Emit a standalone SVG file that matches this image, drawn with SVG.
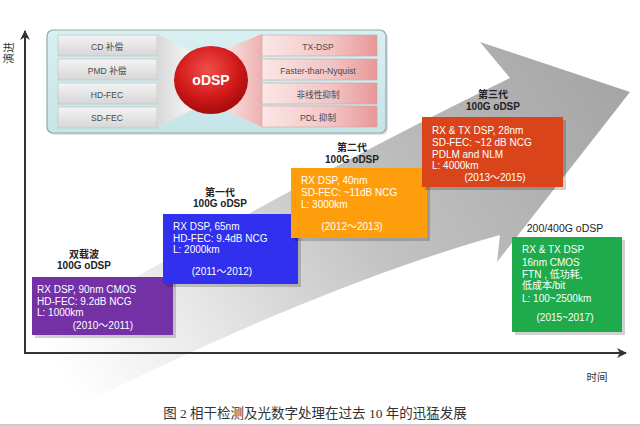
<svg xmlns="http://www.w3.org/2000/svg" width="640" height="426" viewBox="0 0 640 426">
<defs>
<style>
.t{font-family:"Liberation Sans","Noto Sans CJK SC",sans-serif;}
.cell{font-size:8.6px;fill:#4a4a4a;text-anchor:middle;}
.bx{font-size:10px;fill:#ffffff;}
.yr{text-anchor:middle;}
.lb{font-size:10px;font-weight:bold;fill:#222;text-anchor:middle;}
.ax{stroke:#333;stroke-width:2;fill:none;}
.sh{fill:#000;opacity:0.18;}
</style>
<linearGradient id="arrowG" gradientUnits="userSpaceOnUse" x1="610" y1="90" x2="90" y2="420">
<stop offset="0" stop-color="#a6a6a6"/>
<stop offset="0.45" stop-color="#c2c2c2"/>
<stop offset="0.8" stop-color="#ececec"/>
<stop offset="1" stop-color="#ffffff"/>
</linearGradient>
<linearGradient id="panelG" x1="0" y1="0" x2="0" y2="1">
<stop offset="0" stop-color="#d9f0f2"/>
<stop offset="1" stop-color="#c6e4e8"/>
</linearGradient>
<linearGradient id="grayCell" x1="0" y1="0" x2="0" y2="1">
<stop offset="0" stop-color="#f4f4f4"/>
<stop offset="1" stop-color="#d6d6d6"/>
</linearGradient>
<linearGradient id="pinkCell" x1="0" y1="0" x2="1" y2="0">
<stop offset="0" stop-color="#fbe6e6"/>
<stop offset="0.6" stop-color="#f3c4c4"/>
<stop offset="1" stop-color="#e89797"/>
</linearGradient>
<linearGradient id="lfun" x1="0" y1="0" x2="1" y2="0">
<stop offset="0" stop-color="#d8d8d8"/>
<stop offset="1" stop-color="#f6f6f6"/>
</linearGradient>
<linearGradient id="rfun" x1="0" y1="0" x2="1" y2="0">
<stop offset="0" stop-color="#f7dede"/>
<stop offset="1" stop-color="#eeb0b0"/>
</linearGradient>
<radialGradient id="ball" cx="0.45" cy="0.35" r="0.7">
<stop offset="0" stop-color="#f0504a"/>
<stop offset="0.6" stop-color="#d01818"/>
<stop offset="1" stop-color="#9a0a0a"/>
</radialGradient>
<marker id="ah" viewBox="0 0 10 10" refX="9" refY="5" markerWidth="5" markerHeight="5" orient="auto">
<path d="M0,0 L10,5 L0,10 L3,5 z" fill="#333"/>
</marker>
</defs>

<rect x="0" y="0" width="640" height="426" fill="#ffffff"/>

<g id="bigArrow">
<path d="M20,345 Q280,190 510,78 L480,42 L630,92 L497,262 L500,235 Q320,285 60,415 Z" fill="url(#arrowG)"/>
</g>

<g id="connectors">
<line class="ax" x1="25" y1="353" x2="25" y2="31" marker-end="url(#ah)"/>
<line class="ax" x1="24" y1="353" x2="626" y2="353" marker-end="url(#ah)"/>
</g>

<g id="axisLabels" class="t">
<text x="10" y="53" font-size="11" fill="#333" text-anchor="middle" transform="rotate(-90 10 53)" dominant-baseline="middle">演进</text>
<text x="597" y="381" font-size="10.5" fill="#333" text-anchor="middle">时间</text>
</g>

<g id="panel">
<rect x="49" y="32" width="339" height="103" rx="6" fill="#000" opacity="0.12"/>
<rect x="47" y="30" width="339" height="103" rx="6" fill="url(#panelG)" stroke="#8fa7aa" stroke-width="1.2"/>
</g>

<g id="leftCells" class="t">
<rect x="58" y="35" width="99" height="21" fill="url(#grayCell)" stroke="#bdbdbd" stroke-width="0.6"/>
<rect x="58" y="59" width="99" height="21" fill="url(#grayCell)" stroke="#bdbdbd" stroke-width="0.6"/>
<rect x="58" y="83" width="99" height="21" fill="url(#grayCell)" stroke="#bdbdbd" stroke-width="0.6"/>
<rect x="58" y="107" width="99" height="21" fill="url(#grayCell)" stroke="#bdbdbd" stroke-width="0.6"/>
<text class="cell" x="107" y="50">CD 补偿</text>
<text class="cell" x="107" y="74">PMD 补偿</text>
<text class="cell" x="107" y="98">HD-FEC</text>
<text class="cell" x="107" y="121">SD-FEC</text>
</g>

<g id="funnels">
<polygon points="157,34 192,52 192,110 157,127" fill="url(#lfun)"/>
<polygon points="228,48 262,34 262,127 228,112" fill="url(#rfun)"/>
</g>

<g id="odsp" class="t">
<ellipse cx="211" cy="80" rx="37" ry="34" fill="url(#ball)"/>
<text x="211" y="85" font-size="14" font-weight="bold" fill="#ffffff" text-anchor="middle">oDSP</text>
</g>

<g id="rightCells" class="t">
<rect x="262" y="35" width="115" height="21" fill="url(#pinkCell)" stroke="#c9a5a5" stroke-width="0.6"/>
<rect x="262" y="59" width="115" height="21" fill="url(#pinkCell)" stroke="#c9a5a5" stroke-width="0.6"/>
<rect x="262" y="83" width="115" height="21" fill="url(#pinkCell)" stroke="#c9a5a5" stroke-width="0.6"/>
<rect x="262" y="106" width="115" height="21" fill="url(#pinkCell)" stroke="#c9a5a5" stroke-width="0.6"/>
<text class="cell" x="318" y="50">TX-DSP</text>
<text class="cell" x="318" y="74">Faster-than-Nyquist</text>
<text class="cell" x="318" y="98">非线性抑制</text>
<text class="cell" x="318" y="121">PDL 抑制</text>
</g>

<g id="gen0" class="t">
<text class="lb" x="84" y="258">双载波</text>
<text class="lb" x="84" y="269" font-size="9.5">100G oDSP</text>
<rect class="sh" x="35" y="280" width="141" height="58"/>
<rect x="32" y="277" width="141" height="58" fill="#7431a6"/>
<text class="bx" x="37" y="293">RX DSP, 90nm CMOS</text>
<text class="bx" x="37" y="304.5">HD-FEC: 9.2dB NCG</text>
<text class="bx" x="37" y="316">L: 1000km</text>
<text class="bx yr" x="103" y="329">(2010～2011)</text>
</g>

<g id="gen1" class="t">
<text class="lb" x="220" y="196">第一代</text>
<text class="lb" x="220" y="207" font-size="9.5">100G oDSP</text>
<rect class="sh" x="166" y="217" width="135" height="70"/>
<rect x="163" y="214" width="135" height="70" fill="#3030ee"/>
<text class="bx" x="173" y="230">RX DSP, 65nm</text>
<text class="bx" x="173" y="241.5">HD-FEC: 9.4dB NCG</text>
<text class="bx" x="173" y="253">L: 2000km</text>
<text class="bx yr" x="222" y="275">(2011～2012)</text>
</g>

<g id="gen2" class="t">
<text class="lb" x="352" y="151">第二代</text>
<text class="lb" x="352" y="163" font-size="9.5">100G oDSP</text>
<rect class="sh" x="294" y="171" width="136" height="70"/>
<rect x="291" y="168" width="136" height="70" fill="#ff9e0c"/>
<text class="bx" x="301" y="184">RX DSP, 40nm</text>
<text class="bx" x="301" y="196">SD-FEC: ~11dB NCG</text>
<text class="bx" x="301" y="207.5">L: 3000km</text>
<text class="bx yr" x="352" y="230">(2012～2013)</text>
</g>

<g id="gen3" class="t">
<text class="lb" x="493" y="98">第三代</text>
<text class="lb" x="493" y="110" font-size="9.5">100G oDSP</text>
<rect class="sh" x="425" y="120" width="141" height="70"/>
<rect x="422" y="117" width="141" height="70" fill="#d9441b"/>
<text class="bx" x="432" y="134">RX &amp; TX DSP, 28nm</text>
<text class="bx" x="432" y="146">SD-FEC: ~12 dB NCG</text>
<text class="bx" x="432" y="157.5">PDLM and NLM</text>
<text class="bx" x="432" y="169">L: 4000km</text>
<text class="bx yr" x="495" y="181">(2013～2015)</text>
</g>

<g id="gen4" class="t">
<text x="565" y="232" font-size="10.5" fill="#222" text-anchor="middle">200/400G oDSP</text>
<rect class="sh" x="515" y="240" width="110" height="95"/>
<rect x="512" y="237" width="110" height="95" fill="#1fab4c"/>
<text class="bx" x="522" y="253">RX &amp; TX DSP</text>
<text class="bx" x="522" y="265.5">16nm CMOS</text>
<text class="bx" x="522" y="277.5">FTN , 低功耗,</text>
<text class="bx" x="522" y="289">低成本/bit</text>
<text class="bx" x="522" y="301.5">L: 100~2500km</text>
<text class="bx yr" x="565" y="321">(2015~2017)</text>
</g>

<g id="caption">
<text x="315" y="418" font-family="'Liberation Serif','Noto Sans CJK SC',serif" font-size="13.5" fill="#333" text-anchor="middle">图 2 相干检测及光数字处理在过去 10 年的迅猛发展</text>
<line x1="0" y1="425" x2="640" y2="425" stroke="#bbbbbb" stroke-width="1.5"/>
</g>
</svg>
